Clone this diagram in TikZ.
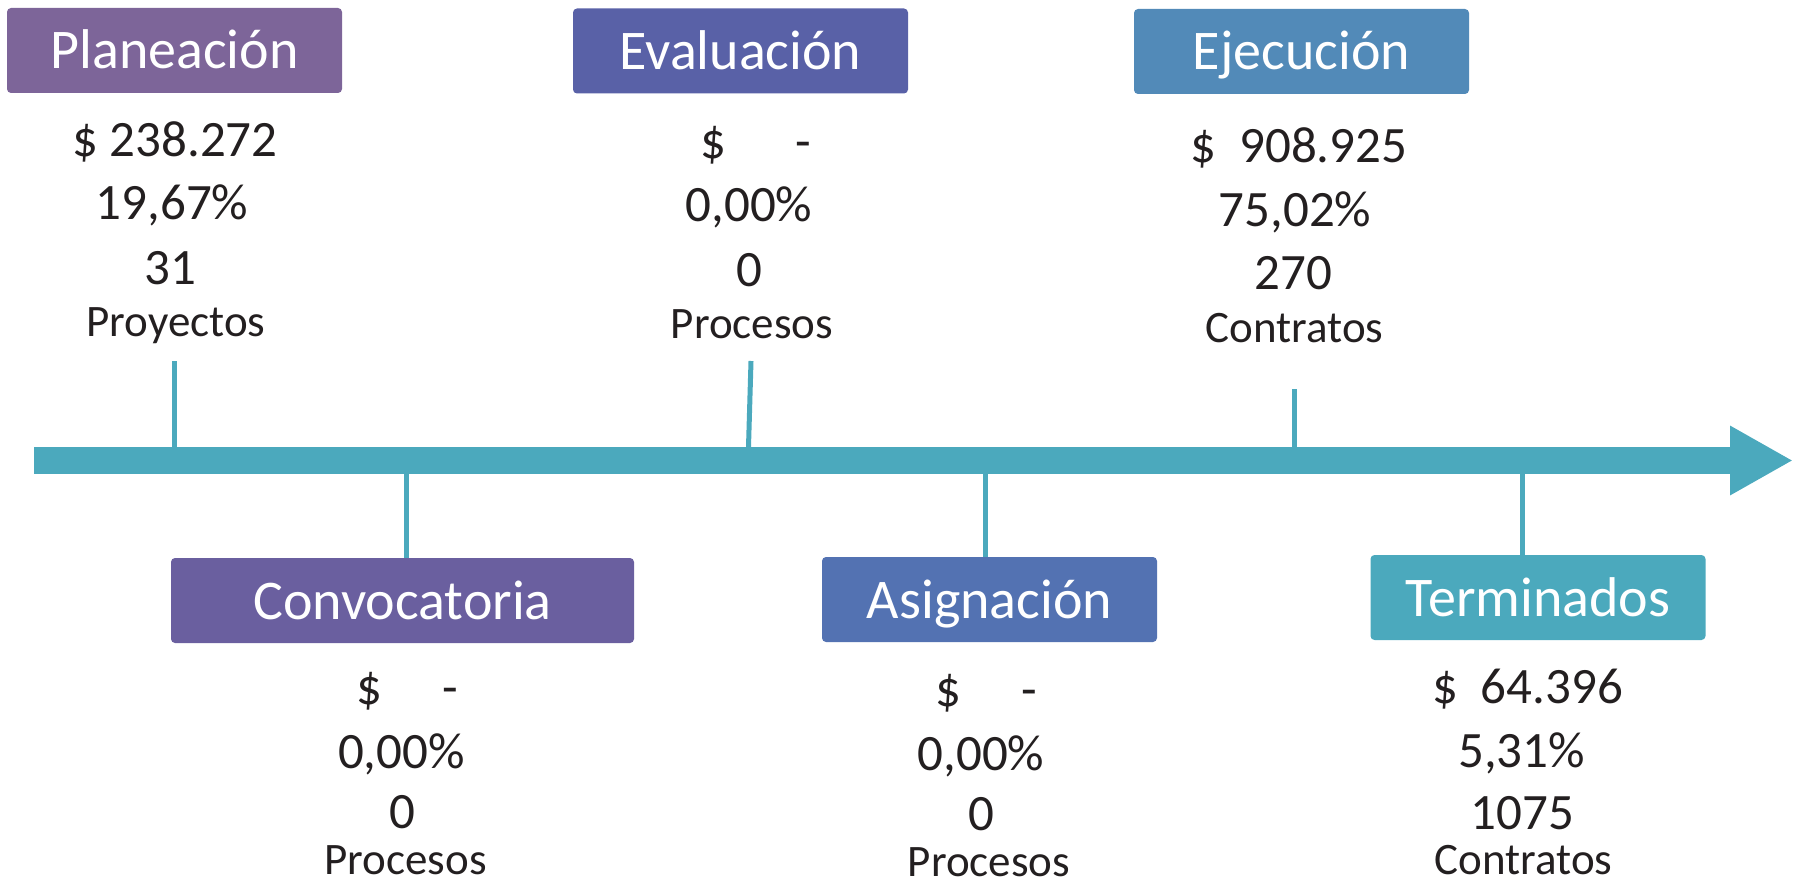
\documentclass[tikz,border=0pt]{standalone}
\usepackage{fontspec}
\setmainfont{Carlito}
\usetikzlibrary{arrows.meta,positioning}

\definecolor{cplan}{HTML}{7D6599}
\definecolor{ceval}{HTML}{5961A7}
\definecolor{cejec}{HTML}{528AB8}
\definecolor{cconv}{HTML}{6A5F9F}
\definecolor{casig}{HTML}{5372B2}
\definecolor{cterm}{HTML}{4BA9BD}
\definecolor{eje}{HTML}{4BA9BD}
\definecolor{tinta}{HTML}{231F20}

\begin{document}
\begin{tikzpicture}[x=1pt,y=-1pt,
    etapa/.style={rounded corners=4pt, minimum width=335pt, minimum height=85pt,
      inner sep=0pt, text=white, font=\fontsize{56}{60}\selectfont,
      text height=37pt, text depth=0pt},
    dato/.style={anchor=base, inner sep=0pt, text=tinta, font=\fontsize{51}{60}\selectfont},
    unidad/.style={dato, font=\fontsize{45}{52}\selectfont, text depth=0pt},
    tick/.style={draw=eje, line width=5pt}]

    \useasboundingbox (0,0) rectangle (1794,885);

    % linea de tiempo
    \coordinate (ini) at (34,460.5);
    \coordinate (fin) at (1793,460.5);
    \coordinate (ejeArriba) at (0,447);
    \coordinate (ejeAbajo) at (0,474);
    \draw[eje, line width=27pt, -{Triangle[length=63pt,width=65pt]}] (ini) -- (fin);

    % Planeacion
    \node[etapa, fill=cplan] (plan) at (174.5,50.5) {Planeación};
    \node[dato] (plan1) at (175,157) {\$ 238.272};
    \node[dato] (plan2) at (172,220) {19,67\%};
    \node[dato] (plan3) at (170,285) {31};
    \node[unidad] (plan4) at (176,337) {Proyectos};
    \coordinate (tplan) at (174.5,361);
    \draw[tick] (tplan) -- (tplan |- ejeArriba);

    % Evaluacion
    \node[etapa, fill=ceval] (eval) at (740.5,51) {Evaluación};
    \node[dato] (eval1) at (755.5,159) {\$\hspace{69pt}-};
    \node[dato] (eval2) at (749,222) {0,00\%};
    \node[dato] (eval3) at (749.5,287) {0};
    \node[unidad] (eval4) at (752,338) {Procesos};
    \coordinate (teval) at (751,361);
    \draw[tick] (teval) -- ([xshift=-2.5pt]teval |- ejeArriba);

    % Ejecucion
    \node[etapa, fill=cejec] (ejec) at (1301.5,51.5) {Ejecución};
    \node[dato] (ejec1) at (1299,163) {\$\hspace{23pt}908.925};
    \node[dato] (ejec2) at (1295,227) {75,02\%};
    \node[dato] (ejec3) at (1293.5,290) {270};
    \node[unidad] (ejec4) at (1294.5,343) {Contratos};
    \coordinate (tejec) at (1294,389);
    \draw[tick] (tejec) -- (tejec |- ejeArriba);

    % Convocatoria
    \node[etapa, fill=cconv, minimum width=463pt] (conv) at (402.5,600.5) {Convocatoria};
    \node[dato] (conv1) at (407.5,704) {\$\hspace{60pt}-};
    \node[dato] (conv2) at (401.5,768) {0,00\%};
    \node[dato] (conv3) at (402.5,828) {0};
    \node[unidad] (conv4) at (405.5,874) {Procesos};
    \coordinate (tconv) at (406,474);
    \draw[tick] (tconv) -- (tconv |- conv.north);

    % Asignacion
    \node[etapa, fill=casig] (asig) at (989.5,599.5) {Asignación};
    \node[dato] (asig1) at (986.5,706) {\$\hspace{60pt}-};
    \node[dato] (asig2) at (981,770) {0,00\%};
    \node[dato] (asig3) at (981.5,830) {0};
    \node[unidad] (asig4) at (989,876) {Procesos};
    \coordinate (tasig) at (985,474);
    \draw[tick] (tasig) -- (tasig |- asig.north);

    % Terminados
    \node[etapa, fill=cterm] (term) at (1538,597.5) {Terminados};
    \node[dato] (term1) at (1527.5,703) {\$\hspace{23pt}64.396};
    \node[dato] (term2) at (1521.5,767) {5,31\%};
    \node[dato] (term3) at (1522.5,829) {1075};
    \node[unidad] (term4) at (1523.5,874) {Contratos};
    \coordinate (tterm) at (1522,474);
    \draw[tick] (tterm) -- (tterm |- term.north);

\end{tikzpicture}
\end{document}
